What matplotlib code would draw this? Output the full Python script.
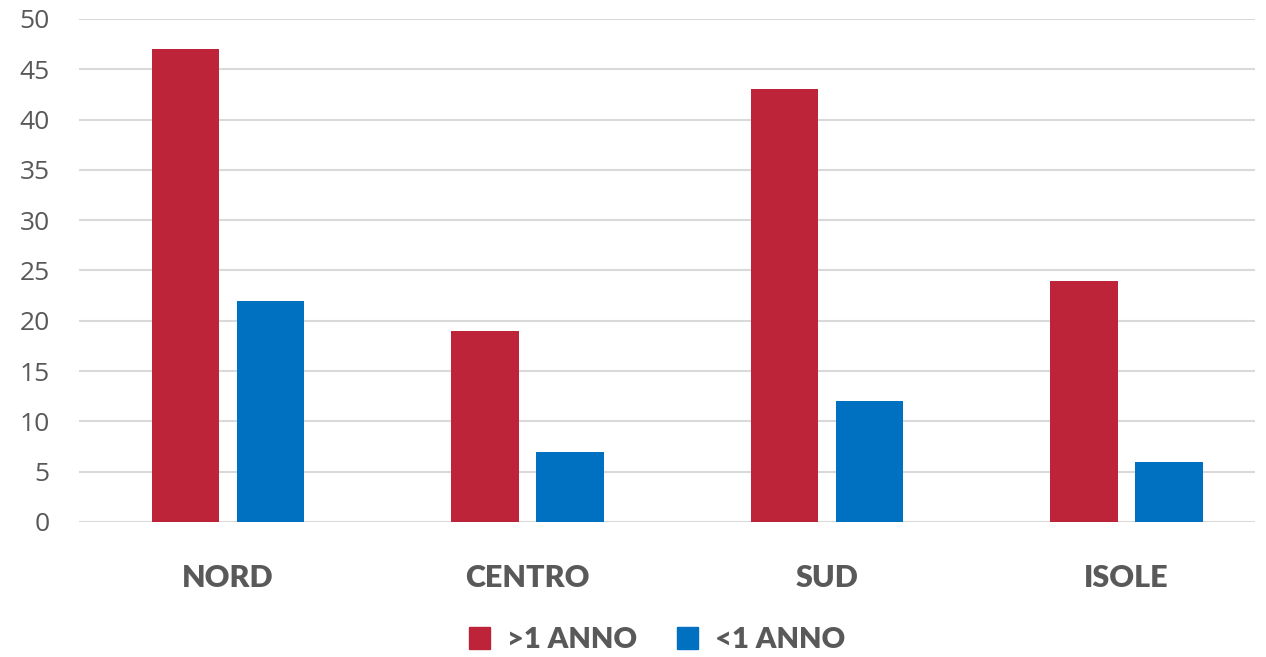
import matplotlib
matplotlib.use("Agg")
import matplotlib.pyplot as plt
import numpy as np
from matplotlib.patches import Patch

categories = ["NORD", "CENTRO", "SUD", "ISOLE"]
series_names = [">1 ANNO", "<1 ANNO"]
over_one_year = [47, 19, 43, 24]
under_one_year = [22, 7, 12, 6]
yticks = [0, 5, 10, 15, 20, 25, 30, 35, 40, 45, 50]

red = "#BE2439"
blue = "#0070C0"
gray = "#595959"

fig = plt.figure(figsize=(12.66, 6.57), dpi=100)
ax = fig.add_axes([0.0624, 0.2055, 0.9289, 0.7656])

x = np.arange(len(categories))
w = 0.224
gap = 0.06
ax.bar(x - (w + gap) / 2, over_one_year, w, color=red, zorder=3)
ax.bar(x + (w + gap) / 2, under_one_year, w, color=blue, zorder=3)

ax.set_xlim(-0.4975, 3.429)
ax.set_ylim(0, 50)
ax.set_yticks(yticks)
ax.yaxis.grid(True, color="#d9d9d9", linewidth=1.5, zorder=0)
ax.set_axisbelow(True)
for s in ax.spines.values():
    s.set_visible(False)
ax.tick_params(axis="both", length=0)
ax.tick_params(axis="y", pad=21)
for lab in ax.get_yticklabels():
    lab.set_fontfamily("Open Sans")
    lab.set_fontsize(19)
    lab.set_color(gray)

ax.set_xticks(x)
ax.set_xticklabels(categories, fontfamily="Lato", fontweight="heavy", fontsize=22, color=gray)
ax.tick_params(axis="x", pad=30)

handles = [Patch(color=red), Patch(color=blue)]
leg = fig.legend(handles, series_names, loc="center", bbox_to_anchor=(0.519, 0.026),
                 ncol=2, frameon=False, handlelength=0.72, handleheight=0.8,
                 handletextpad=0.6, columnspacing=1.35,
                 prop={"family": "Lato", "weight": "heavy", "size": 21})
for t in leg.get_texts():
    t.set_color(gray)

fig.savefig("out.png", dpi=100)
